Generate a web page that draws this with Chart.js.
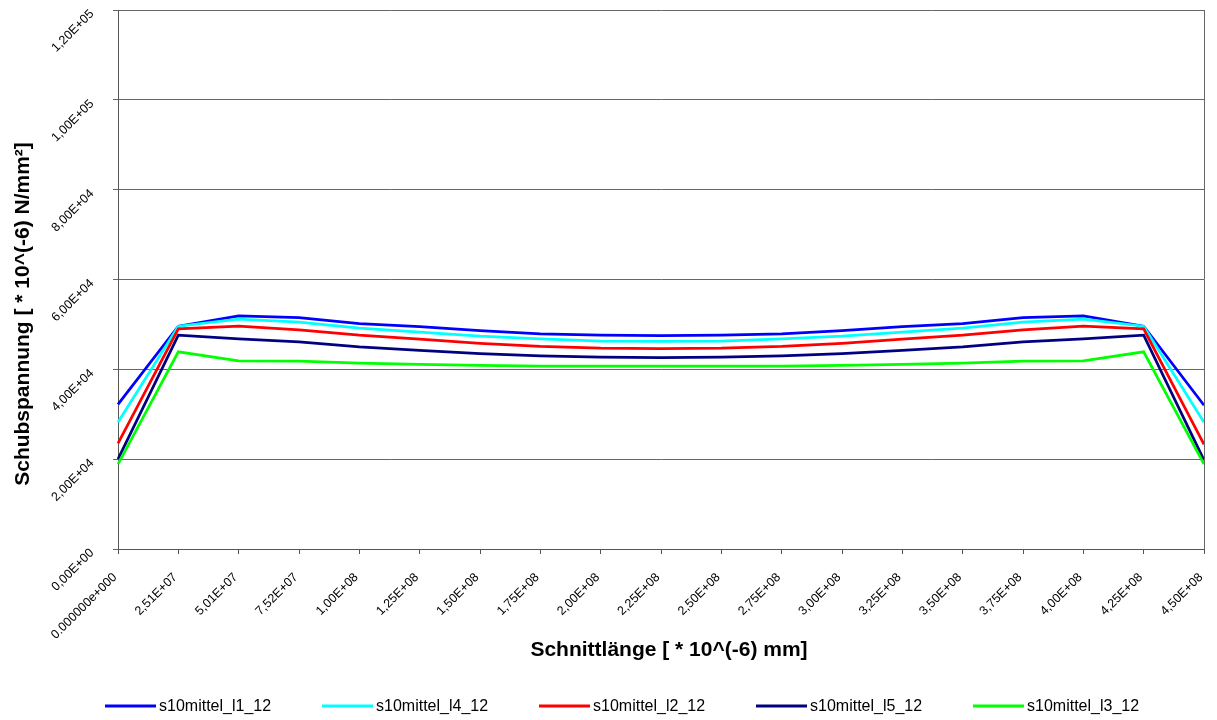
<!DOCTYPE html>
<html>
<head>
<meta charset="utf-8">
<script src="https://cdn.jsdelivr.net/npm/chart.js@4.4.1/dist/chart.umd.min.js"></script>
<style>
  html, body { margin: 0; padding: 0; background: #ffffff; }
  #wrap { width: 1217px; height: 720px; position: relative; }
</style>
</head>
<body>
<div id="wrap"><canvas id="c" width="1217" height="720"></canvas></div>
<script>
// Section positions along the cut (x categories)
const categories = [
  '0.000000e+000', '2,51E+07', '5,01E+07', '7,52E+07', '1,00E+08', '1,25E+08',
  '1,50E+08', '1,75E+08', '2,00E+08', '2,25E+08', '2,50E+08', '2,75E+08',
  '3,00E+08', '3,25E+08', '3,50E+08', '3,75E+08', '4,00E+08', '4,25E+08', '4,50E+08'
];

// Shear stress axis ticks
const yTickValues = [0, 20000, 40000, 60000, 80000, 100000, 120000];
const yTickLabels = ['0,00E+00', '2,00E+04', '4,00E+04', '6,00E+04', '8,00E+04', '1,00E+05', '1,20E+05'];

// Shear stress per section line
const s10_l1 = [32200, 49600, 51900, 51500, 50200, 49500, 48600, 47900, 47600, 47500, 47600, 47900, 48600, 49500, 50200, 51500, 51900, 49600, 32000];
const s10_l4 = [28200, 49600, 51200, 50500, 49200, 48300, 47400, 46800, 46300, 46200, 46300, 46800, 47400, 48300, 49200, 50500, 51200, 49600, 28200];
const s10_l2 = [23500, 49000, 49600, 48800, 47600, 46700, 45800, 45100, 44700, 44600, 44700, 45100, 45800, 46700, 47600, 48800, 49600, 49000, 23300];
const s10_l5 = [20000, 47600, 46800, 46100, 45000, 44200, 43500, 43000, 42700, 42600, 42700, 43000, 43500, 44200, 45000, 46100, 46800, 47600, 19800];
const s10_l3 = [18900, 43900, 41900, 41800, 41400, 41100, 40900, 40700, 40700, 40700, 40700, 40700, 40900, 41100, 41400, 41800, 41900, 43900, 18900];

const seriesNames = ['s10mittel_l1_12', 's10mittel_l4_12', 's10mittel_l2_12', 's10mittel_l5_12', 's10mittel_l3_12'];
const seriesColors = ['#0000ff', '#00ffff', '#ff0000', '#000080', '#00ff00'];
const seriesData = [s10_l1, s10_l4, s10_l2, s10_l5, s10_l3];

const xTitle = 'Schnittlänge [ * 10^(-6) mm]';
const yTitle = 'Schubspannung [ * 10^(-6) N/mm²]';

const FONT = '"Liberation Sans", Arial, sans-serif';
const AXIS_COLOR = '#555555';
const GRID_COLOR = '#666666';

const datasets = seriesData.map((d, i) => ({
  label: seriesNames[i],
  data: d,
  borderColor: seriesColors[i],
  backgroundColor: seriesColors[i],
  borderWidth: 2.75,
  pointRadius: 0,
  tension: 0,
  fill: false,
  order: seriesData.length - i   // later series are painted on top
}));

// Rotated y labels, axis titles, right frame line and legend
const decorations = {
  id: 'decorations',
  afterDraw(chart) {
    const { ctx, chartArea: a, scales } = chart;
    const y = scales.y;
    ctx.save();

    // right frame line of the plot area
    ctx.strokeStyle = GRID_COLOR;
    ctx.lineWidth = 1;
    ctx.beginPath();
    ctx.moveTo(Math.round(a.right) + 0.5, a.top);
    ctx.lineTo(Math.round(a.right) + 0.5, a.bottom);
    ctx.stroke();

    // diagonal y tick labels
    ctx.fillStyle = '#000000';
    ctx.font = '12.5px ' + FONT;
    ctx.textAlign = 'right';
    ctx.textBaseline = 'middle';
    yTickValues.forEach((v, i) => {
      const py = y.getPixelForValue(v);
      ctx.save();
      ctx.translate(a.left - 26, py + 2);
      ctx.rotate(-Math.PI / 4);
      ctx.fillText(yTickLabels[i], 0, 0);
      ctx.restore();
    });

    // axis titles
    ctx.font = 'bold 21px ' + FONT;
    ctx.textAlign = 'center';
    ctx.textBaseline = 'middle';
    ctx.fillText(xTitle, 669, 650);
    ctx.save();
    ctx.translate(23, 314);
    ctx.rotate(-Math.PI / 2);
    ctx.fillText(yTitle, 0, 0);
    ctx.restore();

    // legend row
    ctx.font = '16px ' + FONT;
    ctx.textAlign = 'left';
    const ly = 706;
    chart.data.datasets.forEach((ds, i) => {
      const x0 = 105 + i * 217;
      ctx.strokeStyle = ds.borderColor;
      ctx.lineWidth = 3;
      ctx.beginPath();
      ctx.moveTo(x0, ly);
      ctx.lineTo(x0 + 51, ly);
      ctx.stroke();
      ctx.fillStyle = '#000000';
      ctx.fillText(ds.label, x0 + 54, ly + 1);
    });

    ctx.restore();
  }
};

new Chart(document.getElementById('c'), {
  type: 'line',
  data: { labels: categories, datasets },
  options: {
    responsive: false,
    animation: false,
    layout: { padding: { left: 0, right: 13, top: 10, bottom: 0 } },
    plugins: {
      legend: { display: false },
      tooltip: { enabled: false },
      title: { display: false }
    },
    scales: {
      x: {
        type: 'category',
        offset: false,
        grid: {
          display: true,
          drawOnChartArea: false,
          drawTicks: true,
          tickLength: 5,
          color: AXIS_COLOR
        },
        border: { display: true, color: AXIS_COLOR, width: 1 },
        ticks: {
          autoSkip: false,
          minRotation: 45,
          maxRotation: 45,
          padding: 16,
          labelOffset: -3,
          color: '#000000',
          font: { family: FONT, size: 12.5 }
        },
        afterFit(scale) {
          scale.height = 171;
          scale.paddingLeft = 0;
          scale.paddingRight = 0;
        }
      },
      y: {
        min: 0,
        max: 120000,
        grid: {
          color: GRID_COLOR,
          lineWidth: 1,
          drawTicks: true,
          tickLength: 5
        },
        border: { display: true, color: AXIS_COLOR, width: 1 },
        ticks: {
          stepSize: 20000,
          display: false
        },
        afterFit(scale) {
          scale.width = 118;
          scale.paddingTop = 0;
          scale.paddingBottom = 0;
        }
      }
    }
  },
  plugins: [decorations]
});
</script>
</body>
</html>
